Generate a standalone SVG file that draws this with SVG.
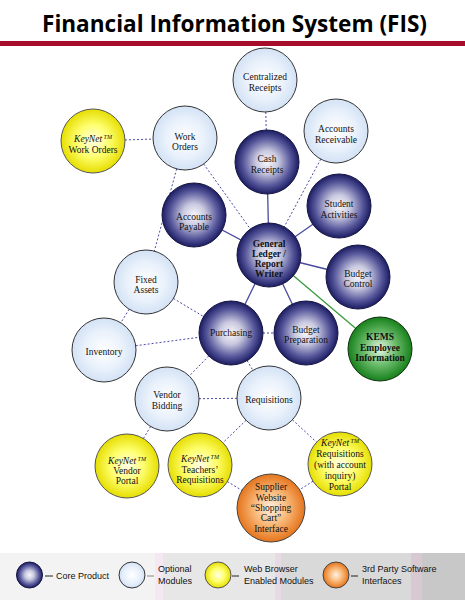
<svg xmlns="http://www.w3.org/2000/svg" width="465" height="600" viewBox="0 0 465 600">
<defs>
<radialGradient id="gCore" cx="50%" cy="50%" r="50%">
<stop offset="0" stop-color="#f6f6fb"/>
<stop offset="0.35" stop-color="#c9c9e0"/>
<stop offset="0.75" stop-color="#55559a"/>
<stop offset="1" stop-color="#1c1c62"/>
</radialGradient>
<radialGradient id="gOpt" cx="50%" cy="50%" r="50%">
<stop offset="0" stop-color="#ffffff"/>
<stop offset="0.6" stop-color="#e9f1fb"/>
<stop offset="1" stop-color="#d3e2f5"/>
</radialGradient>
<radialGradient id="gWeb" cx="50%" cy="50%" r="50%">
<stop offset="0" stop-color="#ffffe8"/>
<stop offset="0.5" stop-color="#ffff70"/>
<stop offset="1" stop-color="#e6de00"/>
</radialGradient>
<radialGradient id="gGreen" cx="50%" cy="50%" r="50%">
<stop offset="0" stop-color="#e8f6e8"/>
<stop offset="0.5" stop-color="#6cbc6c"/>
<stop offset="1" stop-color="#16801a"/>
</radialGradient>
<radialGradient id="gOrange" cx="50%" cy="50%" r="50%">
<stop offset="0" stop-color="#fff2e4"/>
<stop offset="0.5" stop-color="#f9b878"/>
<stop offset="1" stop-color="#e5741c"/>
</radialGradient>
</defs>
<style>
.core{fill:url(#gCore);stroke:#151540;stroke-width:1}
.opt{fill:url(#gOpt);stroke:#333;stroke-width:1}
.web{fill:url(#gWeb);stroke:#555;stroke-width:1}
.grn{fill:url(#gGreen);stroke:#103010;stroke-width:1}
.org{fill:url(#gOrange);stroke:#444;stroke-width:1}
text.n{font-family:"Liberation Serif","Times New Roman",serif;font-size:9.5px;fill:#111;text-anchor:middle}
text.b{font-weight:bold}
.i{font-style:italic}
.tm{font-style:italic;font-size:6px}
.dash{stroke:#4a4aa6;stroke-width:1;stroke-dasharray:2,2;fill:none}
.sol{stroke:#4a4a9e;stroke-width:1.3;fill:none}
.grl{stroke:#3a9a3a;stroke-width:1.3;fill:none}
text.lg{font-family:"Liberation Sans",Arial,sans-serif;font-size:9px;fill:#111}
</style>
<rect x="0" y="0" width="465" height="600" fill="#fff"/>
<text x="234.5" y="32" font-family="'Open Sans','Noto Sans',sans-serif" font-weight="bold" font-size="24" text-anchor="middle" textLength="385" lengthAdjust="spacingAndGlyphs" fill="#000">Financial Information System (FIS)</text>
<rect x="0" y="41" width="465" height="5" fill="#a50d2a"/>

<g id="connectors">
<line class="dash" x1="265" y1="80" x2="267" y2="162"/>
<line class="dash" x1="336" y1="131" x2="269" y2="255"/>
<line class="dash" x1="93" y1="141" x2="185" y2="138"/>
<line class="dash" x1="185" y1="138" x2="146" y2="282"/>
<line class="dash" x1="185" y1="138" x2="269" y2="255"/>
<line class="dash" x1="146" y1="282" x2="231" y2="333"/>
<line class="dash" x1="146" y1="282" x2="104" y2="350"/>
<line class="dash" x1="104" y1="350" x2="231" y2="333"/>
<line class="dash" x1="231" y1="333" x2="167" y2="399"/>
<line class="dash" x1="231" y1="333" x2="306" y2="333"/>
<line class="dash" x1="231" y1="333" x2="269" y2="398"/>
<line class="dash" x1="167" y1="399" x2="269" y2="398"/>
<line class="dash" x1="167" y1="399" x2="127" y2="466"/>
<line class="dash" x1="269" y1="398" x2="200" y2="465"/>
<line class="dash" x1="269" y1="398" x2="340" y2="464"/>
<line class="dash" x1="200" y1="465" x2="271" y2="508"/>
<line class="dash" x1="340" y1="464" x2="271" y2="508"/>
<line class="sol" x1="269" y1="255" x2="267" y2="162"/>
<line class="sol" x1="269" y1="255" x2="194" y2="215"/>
<line class="sol" x1="269" y1="255" x2="339" y2="206"/>
<line class="sol" x1="269" y1="255" x2="358" y2="277"/>
<line class="sol" x1="269" y1="255" x2="306" y2="333"/>
<line class="sol" x1="269" y1="255" x2="231" y2="333"/>
<line class="grl" x1="269" y1="255" x2="380" y2="349"/>
</g>

<g id="centralized-receipts"><circle class="opt" cx="265" cy="80" r="32"/><text class="n" x="265" y="80">Centralized</text><text class="n" x="265" y="91">Receipts</text></g>
<g id="accounts-receivable"><circle class="opt" cx="336" cy="131" r="32"/><text class="n" x="336" y="132">Accounts</text><text class="n" x="336" y="143">Receivable</text></g>
<g id="cash-receipts"><circle class="core" cx="267" cy="162" r="32"/><text class="n" x="267" y="162">Cash</text><text class="n" x="267" y="173">Receipts</text></g>
<g id="student-activities"><circle class="core" cx="339" cy="206" r="32"/><text class="n" x="339" y="207">Student</text><text class="n" x="339" y="218">Activities</text></g>
<g id="work-orders"><circle class="opt" cx="185" cy="138" r="32"/><text class="n" x="185" y="140">Work</text><text class="n" x="185" y="150">Orders</text></g>
<g id="keynet-work-orders"><circle class="web" cx="93" cy="141" r="32"/><text class="n" x="93" y="142"><tspan class="i">KeyNet</tspan><tspan class="tm" dy="-3"> TM</tspan></text><text class="n" x="93" y="153">Work Orders</text></g>
<g id="accounts-payable"><circle class="core" cx="194" cy="215" r="32"/><text class="n" x="194" y="220">Accounts</text><text class="n" x="194" y="230">Payable</text></g>
<g id="general-ledger"><circle class="core" cx="269" cy="255" r="32"/><text class="n b" x="269" y="247">General</text><text class="n b" x="269" y="257">Ledger /</text><text class="n b" x="269" y="267">Report</text><text class="n b" x="269" y="277">Writer</text></g>
<g id="budget-control"><circle class="core" cx="358" cy="277" r="32"/><text class="n" x="358" y="277">Budget</text><text class="n" x="358" y="287">Control</text></g>
<g id="budget-preparation"><circle class="core" cx="306" cy="333" r="32"/><text class="n" x="306" y="333">Budget</text><text class="n" x="306" y="343">Preparation</text></g>
<g id="kems"><circle class="grn" cx="380" cy="349" r="32"/><text class="n b" x="380" y="340">KEMS</text><text class="n b" x="380" y="351">Employee</text><text class="n b" x="380" y="361">Information</text></g>
<g id="purchasing"><circle class="core" cx="231" cy="333" r="32"/><text class="n" x="231" y="336">Purchasing</text></g>
<g id="fixed-assets"><circle class="opt" cx="146" cy="282" r="32"/><text class="n" x="146" y="283">Fixed</text><text class="n" x="146" y="293">Assets</text></g>
<g id="inventory"><circle class="opt" cx="104" cy="350" r="32"/><text class="n" x="104" y="355">Inventory</text></g>
<g id="vendor-bidding"><circle class="opt" cx="167" cy="399" r="32"/><text class="n" x="167" y="398">Vendor</text><text class="n" x="167" y="409">Bidding</text></g>
<g id="requisitions"><circle class="opt" cx="269" cy="398" r="32"/><text class="n" x="269" y="403">Requisitions</text></g>
<g id="keynet-vendor-portal"><circle class="web" cx="127" cy="466" r="32"/><text class="n" x="127" y="464"><tspan class="i">KeyNet</tspan><tspan class="tm" dy="-3"> TM</tspan></text><text class="n" x="127" y="474">Vendor</text><text class="n" x="127" y="484">Portal</text></g>
<g id="keynet-teachers-requisitions"><circle class="web" cx="200" cy="465" r="32"/><text class="n" x="200" y="462"><tspan class="i">KeyNet</tspan><tspan class="tm" dy="-3"> TM</tspan></text><text class="n" x="200" y="473">Teachers’</text><text class="n" x="200" y="483">Requisitions</text></g>
<g id="supplier-website"><circle class="org" cx="271" cy="508" r="34"/><text class="n" x="271" y="490">Supplier</text><text class="n" x="271" y="501">Website</text><text class="n" x="271" y="511">“Shopping</text><text class="n" x="271" y="521">Cart”</text><text class="n" x="271" y="532">Interface</text></g>
<g id="keynet-requisitions-portal"><circle class="web" cx="340" cy="464" r="32"/><text class="n" x="340" y="446"><tspan class="i">KeyNet</tspan><tspan class="tm" dy="-3"> TM</tspan></text><text class="n" x="340" y="457">Requisitions</text><text class="n" x="340" y="468">(with account</text><text class="n" x="340" y="479">inquiry)</text><text class="n" x="340" y="490">Portal</text></g>

<g id="legend">
<rect x="0" y="553" width="155" height="47" fill="#f3f3f3"/>
<rect x="155" y="553" width="8" height="47" fill="#f5e8f2"/>
<rect x="163" y="553" width="112" height="47" fill="#e7e7e7"/>
<rect x="275" y="553" width="6" height="47" fill="#e8dae4"/>
<rect x="281" y="553" width="130" height="47" fill="#d9d9d9"/>
<rect x="411" y="553" width="11" height="47" fill="#d8c8d2"/>
<rect x="422" y="553" width="43" height="47" fill="#c8c8c8"/>
<circle class="core" cx="29.5" cy="575" r="13"/>
<line x1="45" y1="576" x2="53" y2="576" stroke="#222" stroke-width="1"/>
<text class="lg" x="56" y="579">Core Product</text>
<circle class="opt" cx="132" cy="575" r="13"/>
<line x1="147" y1="576" x2="154" y2="576" stroke="#888" stroke-width="1"/>
<text class="lg" x="158" y="572">Optional</text><text class="lg" x="158" y="584">Modules</text>
<circle class="web" cx="218" cy="575" r="13"/>
<line x1="232" y1="576" x2="239" y2="576" stroke="#222" stroke-width="1"/>
<text class="lg" x="244" y="572">Web Browser</text><text class="lg" x="244" y="584">Enabled Modules</text>
<circle class="org" cx="336" cy="575" r="13"/>
<line x1="351" y1="576" x2="358" y2="576" stroke="#222" stroke-width="1"/>
<text class="lg" x="362" y="572">3rd Party Software</text><text class="lg" x="362" y="584">Interfaces</text>
</g>
</svg>
